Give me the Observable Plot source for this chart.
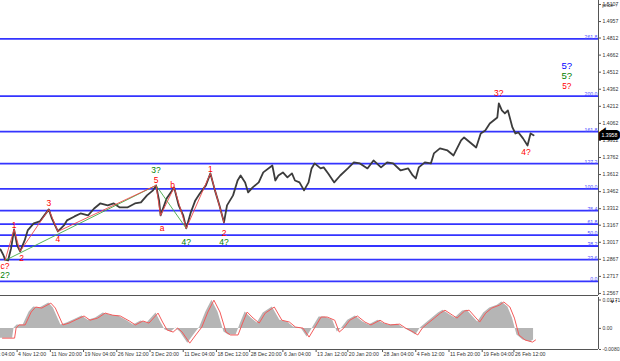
<!DOCTYPE html>
<html><head><meta charset="utf-8">
<script src="https://cdn.jsdelivr.net/npm/d3@7"></script>
<script src="https://cdn.jsdelivr.net/npm/@observablehq/plot@0.6"></script>
<style>
body{margin:0;background:#fff;}
#chart{width:620px;height:361px;overflow:hidden;background:#fff;}
#chart svg{display:block;overflow:visible;}
</style></head><body><div id="chart"></div>
<script>
// ---- price path (bar index, price) ----
const priceBar = [0,2,3,5,7,9,11,13,16,18, 22,26,29,32,34,38,42,44,49,53, 58,62,66,71,75,79,84,89,93,97,
  101,103,105,106,110,115,118,121,123,126, 129,132,136,139,142,145,148,150,154,157, 159,162,164,167,171,174,180,182,184,187,
  190,193,195,198,201,204,206,208,212,214, 217,221,225,230,234, 238,243,247,252,256,260,265,270,273,275, 277,281,285,287,291,296,300,305,307,311,
  315,318,321,324,329,330,332,334,336,339, 341,343,346,349,351,353];
const priceClose = [1.2954,1.2901,1.2866,1.2857,1.2963,1.3130,1.2989,1.2937,1.3033,1.3121,
  1.3183,1.3200,1.3253,1.3306,1.3226,1.3112,1.3165,1.3209,1.3244,1.3270,
  1.3253,1.3314,1.3358,1.3341,1.3358,1.3323,1.3323,1.3358,1.3367,1.3429,
  1.3473,1.3517,1.3385,1.3253,1.3402,1.3499,1.3341,1.3253,1.3139,1.3279,
  1.3385,1.3446,1.3517,1.3622,1.3473,1.3341,1.3191,1.3341,1.3429,1.3560,
  1.3604,1.3543,1.3455,1.3499,1.3543,1.3631,1.3692,1.3560,1.3604,1.3631,
  1.3587,1.3622,1.3560,1.3543,1.3473,1.3543,1.3666,1.3710,1.3666,1.3675,
  1.3622,1.3543,1.3604,1.3666,1.3719,
  1.3710,1.3666,1.3736,1.3675,1.3719,1.3710,1.3648,1.3666,1.3604,1.3578,
  1.3675,1.3719,1.3710,1.3798,1.3842,1.3824,1.3780,1.3912,1.3938,1.3894,
  1.3850,1.3973,1.4000,1.4061,1.4114,1.4237,1.4176,1.4149,1.4176,1.4026,
  1.3973,1.3982,1.3930,1.3868,1.3973,1.3958];
const lastPrice = 1.3958;

// ---- Fibonacci levels ----
const fibNames = ["261.8","200.0","161.8","127.2","100.0","76.4","61.8","50.0","38.2","23.6","0.0"];
const fibPrices = [1.4804,1.4301,1.3990,1.3708,1.3487,1.3295,1.3176,1.3080,1.2984,1.2865,1.2673];

// ---- wave lines ----
const redWaveBar = [3,9,13,32,38,103,106,115,123,139,148];
const redWavePrice = [1.2857,1.3130,1.2937,1.3306,1.3112,1.3517,1.3253,1.3499,1.3139,1.3622,1.3191];
const greenWaveBar = [3,103,123];
const greenWavePrice = [1.2857,1.3517,1.3139];

// ---- wave labels ----
const labelText  = ["c?","1","2","3","4","5","a","b","1","2","3?","4?", "2?","3?","4?","4?"];
const labelBar   = [3,9,14,32,38,103,107,114,139,148,330,348, 3,103,123,148];
const labelPrice = [1.2805,1.3165,1.2875,1.3358,1.3042,1.3560,1.3139,1.3517,1.3657,1.3095,1.4325,1.3807, 1.2726,1.3648,1.3016,1.3016];
const labelGroup = ["red","red","red","red","red","red","red","red","red","red","red","red", "green","green","green","green"];
const targetText  = ["5?","5?","5?"];
const targetBar   = [375,375,375];
const targetPrice = [1.4571,1.4483,1.4386];
const targetGroup = ["blue","green","red"];

// ---- axes ----
const yTicks = [1.5107,1.4957,1.4812,1.4662,1.4512,1.4362,1.4212,1.4062,1.3912,1.3762,1.3612,1.3462,1.3312,1.3167,1.3017,1.2867,1.2717,1.2567];
const xTickBars = [-11,11,33,55,77,99,121,143,165,187,209,230,253,275,297,319,340];
const xTickLabels = ["30 Oct 04:00","4 Nov 12:00","11 Nov 20:00","19 Nov 04:00","26 Nov 12:00","3 Dec 20:00","11 Dec 04:00","18 Dec 12:00","28 Dec 20:00","6 Jan 04:00","13 Jan 12:00","20 Jan 20:00","28 Jan 04:00","4 Feb 12:00","11 Feb 20:00","19 Feb 04:00","26 Feb 12:00"];

// ---- MACD ----
const macdBar = [0,8,9,11,15,19,22,26,32,35, 40,44,48,54,58,63,68,73,78,84, 88,93,97,103,106,109,113,116,119,124,
  128,132,136,140,144,148,151,156,159,162, 166,170,174,180,185,190,194,199,203,207, 211,215,220,223,226,230,235,240,244,250,
  253,257,263,267,272,275,278,281,286,290, 293,298,301,306,309,313,316,320,324,329, 332,336,339,342,346,351,353];
const macdHist = [-0.0037,-0.0037,0.0001,0.0013,0.0013,0.0062,0.0081,0.0077,0.0096,0.0077,
  0.0013,0.0020,0.0031,0.0047,0.0031,0.0039,0.0058,0.0050,0.0047,0.0028,
  0.0013,0.0028,0.0020,0.0058,0.0024,-0.0006,-0.0014,0.0001,-0.0014,-0.0056,
  -0.0025,0.0005,0.0062,0.0107,0.0062,-0.0014,-0.0025,-0.0025,0.0020,0.0062,
  0.0039,0.0020,0.0058,0.0081,0.0031,0.0024,0.0005,0.0001,-0.0033,0.0005,
  0.0043,0.0043,0.0031,-0.0014,0.0001,0.0031,0.0047,0.0024,0.0013,0.0031,
  0.0020,0.0013,0.0016,0.0001,-0.0014,-0.0025,0.0001,0.0016,0.0039,0.0058,
  0.0069,0.0050,0.0039,0.0066,0.0069,0.0043,0.0024,0.0058,0.0077,0.0088,
  0.0100,0.0081,0.0039,-0.0025,-0.0044,-0.0052,-0.0044];
const macdTicks = [0.01171, 0, -0.00801];
const macdTickLabels = ["0.01171","0.00","-0.00801"];

const xDomain = [0, 396];
const yDomain = [1.2549, 1.5142];
const macdDomain = [-0.00801, 0.01171];
const FONT = "Liberation Sans, Arial, sans-serif";
const colorScale = {domain: ["red","green","blue"], range: ["#f03c3c","#2f9a2f","#2b2bf5"]};

const price = priceBar.map((b,i)=>({bar:b, price:priceClose[i]}));
const fib = fibNames.map((n,i)=>({name:n, price:fibPrices[i]}));
const redWave = redWaveBar.map((b,i)=>({bar:b, price:redWavePrice[i]}));
const greenWave = greenWaveBar.map((b,i)=>({bar:b, price:greenWavePrice[i]}));
const labels = labelText.map((t,i)=>({text:t, bar:labelBar[i], price:labelPrice[i], group:labelGroup[i]}));
const targets = targetText.map((t,i)=>({text:t, bar:targetBar[i], price:targetPrice[i], group:targetGroup[i]}));
const macd = macdBar.map((b,i)=>({bar:b, v:macdHist[i]}));
const xticks = xTickBars.map((b,i)=>({bar:b, label:xTickLabels[i]}));

const main = Plot.plot({
  width: 620, height: 296,
  marginLeft: 0, marginRight: 22, marginTop: 0, marginBottom: 1,
  style: {fontFamily: FONT, background: "#fff", overflow: "visible"},
  x: {domain: xDomain, axis: null},
  y: {domain: yDomain, axis: null},
  color: colorScale,
  marks: [
    Plot.ruleY(fib, {y: "price", stroke: "#3434ff", strokeWidth: 1.8}),
    Plot.text(fib, {y: "price", text: "name", frameAnchor: "right", textAnchor: "end", lineAnchor: "bottom", dx: -1, dy: 0, fill: "#4a4aff", fontSize: 5.2}),
    Plot.line(price, {x: "bar", y: "price", stroke: "#3c3c3c", strokeWidth: 1.8, strokeLinejoin: "round"}),
    Plot.line(greenWave, {x: "bar", y: "price", stroke: "#45a845", strokeWidth: 0.9}),
    Plot.line(redWave, {x: "bar", y: "price", stroke: "#f04848", strokeWidth: 0.9}),
    Plot.text(labels, {x: "bar", y: "price", text: "text", fill: "group", fontSize: 8.5}),
    Plot.text(targets, {x: "bar", y: "price", text: "text", fill: "group", fontSize: d => d.group === "red" ? 8.3 : 9.6, fontWeight: 500}),
    Plot.ruleX([xDomain[1]], {stroke: "#555", strokeWidth: 1}),
    Plot.ruleY([yDomain[0]], {stroke: "#555", strokeWidth: 1}),
    Plot.axisY(yTicks, {anchor: "right", tickSize: 2, tickPadding: 2, tickFormat: d => d.toFixed(4), fontSize: 5.2, fill: "#333", stroke: "#555"}),
    Plot.text([lastPrice], {y: d => d, text: d => d.toFixed(4), frameAnchor: "right", textAnchor: "start", dx: 3, fill: "white", stroke: "black", strokeWidth: 6, strokeLinejoin: "miter", paintOrder: "stroke", fontSize: 5.2})
  ]
});

const sub = Plot.plot({
  width: 620, height: 65,
  marginLeft: 0, marginRight: 22, marginTop: 1, marginBottom: 12,
  style: {fontFamily: FONT, background: "#fff", overflow: "visible"},
  x: {domain: xDomain, axis: null},
  y: {domain: macdDomain, axis: null},
  marks: [
    Plot.areaY(macd, {x: "bar", y: "v", fill: "#b5b5b5"}),
    Plot.line(macd, {x: "bar", y: "v", stroke: "#f45a5a", strokeWidth: 1, dx: 2}),
    Plot.ruleX([xDomain[1]], {stroke: "#555", strokeWidth: 1}),
    Plot.ruleY([macdDomain[0]], {stroke: "#555", strokeWidth: 1}),
    Plot.axisY(macdTicks.slice(0,1), {anchor: "right", tickSize: 2, tickPadding: 2, tickFormat: () => macdTickLabels[0], fontSize: 5, dy: 2.5, fill: "#333", stroke: "#555"}),
    Plot.axisY(macdTicks.slice(1), {anchor: "right", tickSize: 2, tickPadding: 2, tickFormat: (d,i) => macdTickLabels[i+1], fontSize: 5, fill: "#333", stroke: "#555"}),
    Plot.axisX(xTickBars, {anchor: "bottom", tickSize: 3, tickFormat: () => "", label: null, stroke: "#555"}),
    Plot.text(xticks, {x: "bar", text: "label", frameAnchor: "bottom", textAnchor: "start", dx: 1, dy: 6, fontSize: 5.2, fill: "#333"})
  ]
});

const el = document.getElementById("chart");
el.appendChild(main);
el.appendChild(sub);
</script>
</body></html>
